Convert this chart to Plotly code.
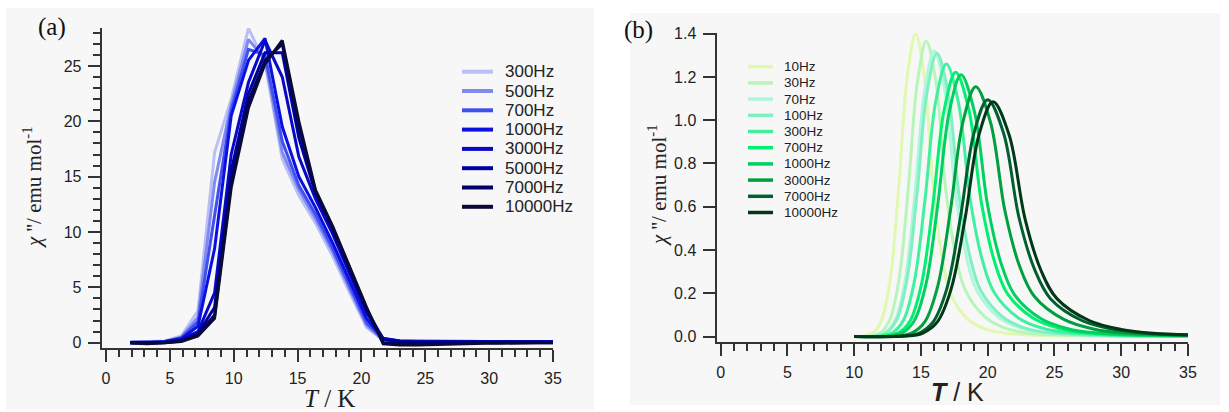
import plotly.graph_objects as go

W, H = 1229, 412

# ---------------- Panel (a) data ----------------
T_a = [1.9, 3.2, 4.6, 5.9, 7.2, 8.5, 9.8, 11.15, 12.45, 13.8, 15.1, 16.4, 17.75, 19.05,
       20.4, 21.7, 23.0, 24.4, 25.7, 27.0, 28.4, 29.7, 31.0, 32.4, 33.7, 35.0]
freq_a = ["300Hz", "500Hz", "700Hz", "1000Hz", "3000Hz", "5000Hz", "7000Hz", "10000Hz"]
chi_a_300 = [0.05, 0.1, 0.15, 0.6, 2.9, 17.2, 22.0, 28.4, 25.3, 16.6, 13.3, 10.8, 7.8, 4.6,
             1.4, 0.2, 0.1, 0.1, 0.1, 0.1, 0.1, 0.1, 0.1, 0.1, 0.1, 0.1]
chi_a_500 = [0.05, 0.05, 0.1, 0.5, 2.3, 14.5, 21.5, 27.4, 25.6, 17.2, 13.8, 11.2, 8.2, 4.9,
             1.6, 0.25, 0.12, 0.1, 0.1, 0.1, 0.1, 0.1, 0.1, 0.1, 0.1, 0.1]
chi_a_700 = [0.05, 0.05, 0.1, 0.45, 1.9, 11.5, 21.0, 26.5, 26.0, 18.2, 14.2, 11.6, 8.5, 5.2,
             1.8, 0.3, 0.15, 0.12, 0.1, 0.1, 0.1, 0.1, 0.1, 0.1, 0.1, 0.1]
chi_a_1000 = [0.0, 0.0, 0.1, 0.35, 1.5, 8.5, 20.5, 25.5, 27.5, 19.5, 15.0, 12.2, 9.0, 5.7,
              2.2, 0.35, 0.15, 0.12, 0.1, 0.1, 0.1, 0.1, 0.1, 0.1, 0.1, 0.1]
chi_a_3000 = [0.0, 0.0, 0.05, 0.3, 1.0, 4.5, 17.0, 23.5, 27.3, 24.0, 16.8, 13.0, 9.8, 6.3,
              2.7, 0.4, 0.15, 0.1, 0.1, 0.1, 0.1, 0.1, 0.1, 0.1, 0.1, 0.1]
chi_a_5000 = [0.0, 0.0, 0.05, 0.2, 0.8, 3.2, 15.5, 22.5, 26.2, 26.2, 18.5, 13.5, 10.2, 6.6,
              3.0, 0.3, 0.1, 0.05, 0.05, 0.05, 0.05, 0.05, 0.05, 0.05, 0.05, 0.05]
chi_a_7000 = [0.0, -0.05, 0.0, 0.15, 0.7, 2.5, 14.5, 21.8, 25.5, 27.0, 19.5, 13.7, 10.4, 6.8,
              3.1, 0.0, -0.05, -0.05, 0.0, 0.0, 0.0, 0.0, 0.0, 0.0, 0.0, 0.0]
chi_a_10000 = [0.0, -0.1, 0.0, 0.1, 0.6, 2.2, 14.0, 21.2, 25.2, 27.3, 20.0, 13.8, 10.5, 7.0,
               3.2, -0.1, -0.2, -0.2, -0.15, -0.1, -0.1, -0.05, -0.05, 0.0, 0.0, 0.0]
series_a = [chi_a_300, chi_a_500, chi_a_700, chi_a_1000, chi_a_3000, chi_a_5000, chi_a_7000, chi_a_10000]
colors_a = ["#b9c0f5", "#8088f2", "#4050ef", "#0a10e0", "#0808c8", "#0000a0", "#00006a", "#0a0a38"]

# ---------------- Panel (b) data ----------------
freq_b = ["10Hz", "30Hz", "70Hz", "100Hz", "300Hz", "700Hz", "1000Hz", "3000Hz", "7000Hz", "10000Hz"]
T_b_10 = [10.0, 10.85, 11.48, 12.1, 12.73, 13.35, 13.98, 14.6, 15.25, 15.9, 16.55, 17.2, 18.5, 19.8, 21.1, 23.7, 35.0]
chi_b_10 = [0.0, 0.004, 0.021, 0.084, 0.28, 0.70, 1.204, 1.40, 1.204, 0.70, 0.38, 0.20, 0.08, 0.035, 0.017, 0.006, 0.002]
T_b_30 = [10.0, 11.35, 12.03, 12.7, 13.38, 14.05, 14.73, 15.4, 16.13, 16.85, 17.58, 18.3, 19.75, 21.2, 22.65, 25.55, 35.0]
chi_b_30 = [0.0, 0.004, 0.020, 0.082, 0.273, 0.683, 1.174, 1.365, 1.174, 0.683, 0.382, 0.218, 0.093, 0.041, 0.019, 0.007, 0.002]
T_b_70 = [10.0, 11.65, 12.38, 13.1, 13.83, 14.55, 15.28, 16.0, 16.8, 17.6, 18.4, 19.2, 20.8, 22.4, 24.0, 27.2, 35.0]
chi_b_70 = [0.0, 0.004, 0.020, 0.079, 0.264, 0.66, 1.135, 1.32, 1.135, 0.66, 0.37, 0.211, 0.09, 0.04, 0.018, 0.007, 0.002]
T_b_100 = [10.0, 11.7, 12.45, 13.2, 13.95, 14.7, 15.45, 16.2, 17.03, 17.85, 18.68, 19.5, 21.15, 22.8, 24.45, 27.75, 35.0]
chi_b_100 = [0.0, 0.004, 0.020, 0.079, 0.262, 0.655, 1.127, 1.31, 1.127, 0.655, 0.367, 0.21, 0.089, 0.039, 0.018, 0.007, 0.002]
T_b_300 = [10.0, 12.1, 12.9, 13.7, 14.5, 15.3, 16.1, 16.9, 17.8, 18.7, 19.6, 20.5, 22.3, 24.1, 25.9, 29.5, 35.0]
chi_b_300 = [0.0, 0.004, 0.019, 0.076, 0.252, 0.63, 1.084, 1.26, 1.084, 0.63, 0.353, 0.202, 0.086, 0.038, 0.018, 0.006, 0.003]
T_b_700 = [10.0, 12.5, 13.35, 14.2, 15.05, 15.9, 16.75, 17.6, 18.58, 19.55, 20.53, 21.5, 23.45, 25.4, 27.35, 31.25, 35.0]
chi_b_700 = [0.0, 0.004, 0.018, 0.073, 0.244, 0.611, 1.051, 1.222, 1.051, 0.611, 0.342, 0.196, 0.083, 0.037, 0.017, 0.006, 0.003]
T_b_1000 = [10.0, 12.75, 13.63, 14.5, 15.38, 16.25, 17.13, 18.0, 19.0, 20.0, 21.0, 22.0, 24.0, 26.0, 28.0, 32.0, 35.0]
chi_b_1000 = [0.0, 0.004, 0.018, 0.073, 0.242, 0.605, 1.041, 1.21, 1.041, 0.605, 0.339, 0.194, 0.082, 0.036, 0.017, 0.006, 0.004]
T_b_3000 = [10.0, 13.4, 14.35, 15.3, 16.25, 17.2, 18.15, 19.1, 20.2, 21.3, 22.4, 23.5, 25.7, 27.9, 30.1, 35.0]
chi_b_3000 = [0.0, 0.003, 0.017, 0.069, 0.231, 0.578, 0.993, 1.155, 0.993, 0.578, 0.323, 0.185, 0.079, 0.035, 0.016, 0.006]
T_b_7000 = [10.0, 13.85, 14.88, 15.9, 16.93, 17.95, 18.98, 20.0, 21.18, 22.35, 23.53, 24.7, 27.05, 29.4, 31.75, 35.0]
chi_b_7000 = [0.0, 0.003, 0.016, 0.066, 0.219, 0.548, 0.942, 1.095, 0.942, 0.548, 0.307, 0.175, 0.074, 0.033, 0.015, 0.007]
T_b_10000 = [10.0, 14.1, 15.15, 16.2, 17.25, 18.3, 19.35, 20.4, 21.6, 22.8, 24.0, 25.2, 27.6, 30.0, 32.4, 35.0]
chi_b_10000 = [0.0, 0.003, 0.016, 0.065, 0.217, 0.543, 0.933, 1.085, 0.933, 0.543, 0.304, 0.174, 0.074, 0.033, 0.015, 0.008]
T_b = [T_b_10, T_b_30, T_b_70, T_b_100, T_b_300, T_b_700, T_b_1000, T_b_3000, T_b_7000, T_b_10000]
chi_b = [chi_b_10, chi_b_30, chi_b_70, chi_b_100, chi_b_300, chi_b_700, chi_b_1000, chi_b_3000, chi_b_7000, chi_b_10000]
colors_b = ["#e0f8b0", "#b8f5b8", "#b0f5dd", "#80f0c0", "#40f0a0", "#00f070", "#00d060",
            "#00a040", "#006030", "#003818"]


def px(x):
    return x / W


def py(y):
    return 1 - y / H


fig = go.Figure()
for name, ys, c in zip(freq_a, series_a, colors_a):
    fig.add_trace(go.Scatter(x=T_a, y=ys, mode="lines", name=name, xaxis="x", yaxis="y",
                             line=dict(color=c, width=3), showlegend=False))
for name, xs, ys, c in zip(freq_b, T_b, chi_b, colors_b):
    fig.add_trace(go.Scatter(x=xs, y=ys, mode="lines", name=name, xaxis="x2", yaxis="y2",
                             line=dict(color=c, width=3, shape="spline", smoothing=1.0),
                             showlegend=False))

AX = "#333333"
TICKFONT = dict(family="Arial, Liberation Sans", size=16, color="#222222")
SERIF = "Times New Roman, Liberation Serif, serif"


def axis(domain, rng, dtick, minor_dtick=None, anchor=None, fmt=None):
    d = dict(domain=domain, range=rng, anchor=anchor, showline=True, linecolor=AX, linewidth=2,
             ticks="outside", ticklen=12, tickwidth=1.5, tickcolor=AX, tick0=0, dtick=dtick,
             showgrid=False, zeroline=False, tickfont=TICKFONT, ticklabelstandoff=3,
             automargin=False)
    if minor_dtick:
        d["minor"] = dict(dtick=minor_dtick, tick0=0, ticks="outside", ticklen=7, tickwidth=1.5,
                          tickcolor=AX, showgrid=False)
    if fmt:
        d["tickformat"] = fmt
    return d


shapes = [
    dict(type="rect", xref="paper", yref="paper", x0=px(6), x1=px(594), y0=py(410), y1=py(8),
         fillcolor="#f7f7f7", line=dict(width=0), layer="below"),
    dict(type="rect", xref="paper", yref="paper", x0=px(630), x1=px(1220), y0=py(405), y1=py(13),
         fillcolor="#f7f7f7", line=dict(width=0), layer="below"),
]
annotations = []

# manual legends
for i, (name, c) in enumerate(zip(freq_a, colors_a)):
    yy = 71.7 + i * 19.3
    shapes.append(dict(type="line", xref="paper", yref="paper", x0=px(462), x1=px(493),
                       y0=py(yy), y1=py(yy), line=dict(color=c, width=4)))
    annotations.append(dict(text=name, xref="paper", yref="paper", x=px(503), y=py(yy),
                            xanchor="left", yanchor="middle", showarrow=False,
                            font=dict(family="Arial, Liberation Sans", size=17, color="#222222")))
for i, (name, c) in enumerate(zip(freq_b, colors_b)):
    yy = 66.7 + i * 16.2
    shapes.append(dict(type="line", xref="paper", yref="paper", x0=px(748), x1=px(773),
                       y0=py(yy), y1=py(yy), line=dict(color=c, width=3.5)))
    annotations.append(dict(text=name, xref="paper", yref="paper", x=px(782), y=py(yy),
                            xanchor="left", yanchor="middle", showarrow=False,
                            font=dict(family="Arial, Liberation Sans", size=13.5, color="#222222")))

ytitle = "<i>χ</i> ''/ emu mol<sup>-1</sup>"
annotations += [
    dict(text=ytitle, xref="paper", yref="paper", x=px(32), y=py(188), textangle=-90,
         xanchor="center", yanchor="middle", showarrow=False,
         font=dict(family=SERIF, size=21, color="#222222")),
    dict(text="<i>T</i> / K", xref="paper", yref="paper", x=px(329), y=py(398),
         xanchor="center", yanchor="middle", showarrow=False,
         font=dict(family=SERIF, size=25, color="#222222")),
    dict(text=ytitle, xref="paper", yref="paper", x=px(657), y=py(186), textangle=-90,
         xanchor="center", yanchor="middle", showarrow=False,
         font=dict(family=SERIF, size=21, color="#222222")),
    dict(text="<b><i>T</i></b> / K", xref="paper", yref="paper", x=px(957), y=py(392),
         xanchor="center", yanchor="middle", showarrow=False,
         font=dict(family="Arial, Liberation Sans", size=25, color="#222222")),
    dict(text="(a)", xref="paper", yref="paper", x=px(52), y=py(27),
         xanchor="center", yanchor="middle", showarrow=False,
         font=dict(family=SERIF, size=25, color="#111111")),
    dict(text="(b)", xref="paper", yref="paper", x=px(638), y=py(30),
         xanchor="center", yanchor="middle", showarrow=False,
         font=dict(family=SERIF, size=25, color="#111111")),
]

fig.update_layout(
    width=W, height=H, margin=dict(l=0, r=0, t=0, b=0, pad=0, autoexpand=False),
    paper_bgcolor="white", plot_bgcolor="rgba(0,0,0,0)",
    showlegend=False,
    xaxis=axis([px(101.7), px(553)], [-0.34, 35.0], 5, 1, anchor="y"),
    yaxis=axis([py(348), py(28)], [-0.48, 28.43], 5, 1, anchor="x"),
    xaxis2=axis([px(716.5), px(1188)], [-0.31, 35.0], 5, 1, anchor="y2"),
    yaxis2=axis([py(341.7), py(33.3)], [-0.024, 1.402], 0.2, None, anchor="x2", fmt=".1f"),
    shapes=shapes, annotations=annotations,
)

fig.write_html("out.html", config={"displayModeBar": False},
               post_script="document.body.style.margin='0px';document.body.style.overflow='hidden';")
